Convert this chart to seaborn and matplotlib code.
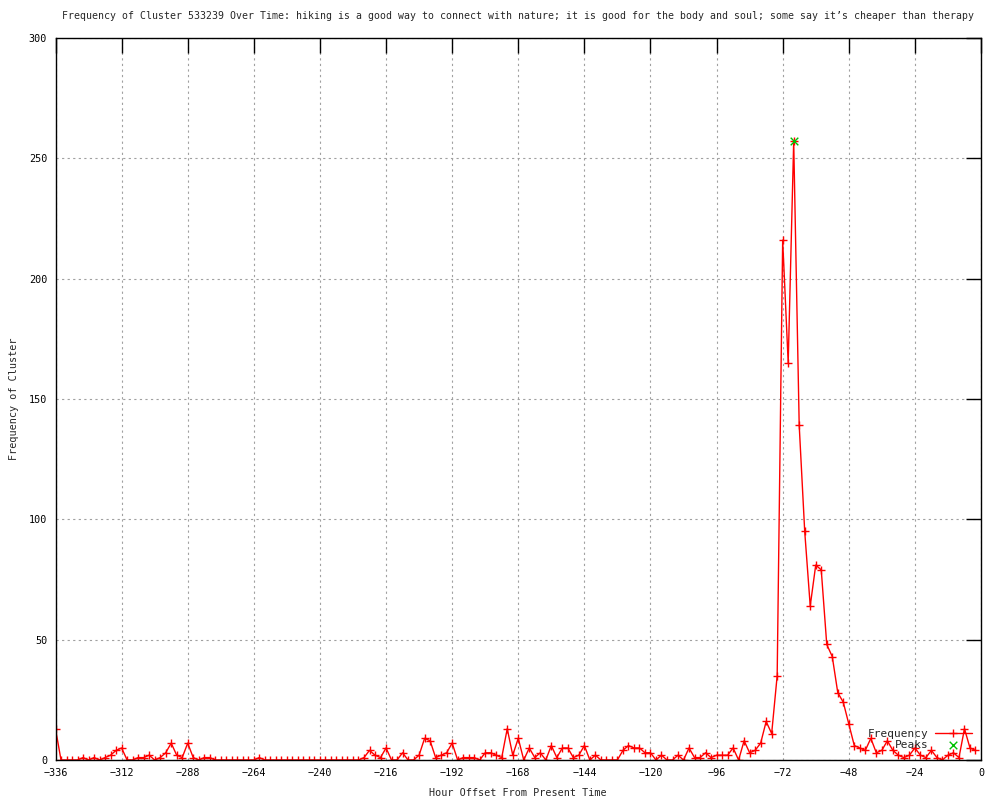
import numpy as np
import pandas as pd
import matplotlib
matplotlib.use("Agg")
import matplotlib.pyplot as plt
import seaborn as sns

# hourly offsets, one reading every 2 hours
hours = list(range(-336, 0, 2))

freq_early = [13, 0, 0, 0, 0, 1, 0, 1, 0, 1,
              2, 4, 5, 0, 0, 1, 1, 2, 0, 1,
              3, 7, 2, 1, 7, 1, 0, 1, 1, 0,
              0, 0, 0, 0, 0, 0, 0, 1]          # -336 .. -262
freq_quiet = [0] * 18                          # -260 .. -226
freq_late = [1, 4, 2, 1, 5, 0, 0, 3, 0, 0,
             2, 9, 8, 1, 2, 3, 7, 0, 1, 1,
             1, 0, 3, 3, 2, 1, 13, 2, 9, 0,
             5, 1, 3, 0, 6, 1, 5, 5, 1, 2,
             6, 0, 2, 0, 0, 0, 0, 4, 6, 5,
             5, 3, 3, 0, 2, 0, 0, 2, 0, 5,
             1, 1, 3, 1, 2, 2, 2, 5, 0, 8,
             3, 4, 7, 16, 11, 35, 216, 165, 257, 139,
             95, 64, 81, 79, 48, 43, 28, 24, 15, 6,
             5, 4, 9, 3, 4, 8, 4, 2, 1, 2,
             5, 2, 1, 4, 1, 0, 2, 3, 1, 13,
             5, 4]                             # -224 .. -2
frequency = freq_early + freq_quiet + freq_late

peak_hours = [-68]
peak_values = [257]

x_ticks = list(range(-336, 1, 24))
y_ticks = list(range(0, 301, 50))

title = ("Frequency of Cluster 533239 Over Time: hiking is a good way to connect with nature; "
         "it is good for the body and soul; some say it\u2019s cheaper than therapy")

df = pd.DataFrame({"hour": hours, "frequency": frequency})
peaks = pd.DataFrame({"hour": peak_hours, "frequency": peak_values})

sns.set_theme(style="white")
plt.rcParams["font.family"] = ["DejaVu Sans Mono", "DejaVu Sans"]
FS = 7.3

fig = plt.figure(figsize=(10, 8), dpi=100)
ax = fig.add_axes([0.0555, 0.05, 0.9255, 0.9025])

sns.lineplot(data=df, x="hour", y="frequency", ax=ax, color="red", linewidth=1,
             marker="+", markersize=6, markeredgewidth=1, markeredgecolor="red",
             label="Frequency")
sns.scatterplot(data=peaks, x="hour", y="frequency", ax=ax, color="#00c000",
                marker="x", s=30, linewidth=1, label="Peaks", zorder=5)

ax.set_xlim(-336, 0)
ax.set_ylim(0, 300)
ax.set_xticks(x_ticks)
ax.set_yticks(y_ticks)
ax.grid(True, color="#a0a0a0", linestyle=(0, (2, 3)), linewidth=0.8)
ax.tick_params(direction="in", length=11, width=1, top=True, right=True,
               labelsize=FS, colors="black", pad=6)
for s in ax.spines.values():
    s.set_color("black")
    s.set_linewidth(1)

ax.set_xlabel("Hour Offset From Present Time", fontsize=FS, labelpad=7)
ax.set_ylabel("Frequency of Cluster", fontsize=FS, labelpad=7)
ax.set_title(title, fontsize=7.1, pad=14)

leg = ax.legend(loc="lower right", bbox_to_anchor=(0.999, 0.003), frameon=False,
                markerfirst=False, fontsize=FS + 0.7, labelspacing=0.1, handlelength=3.4,
                handletextpad=0.5, borderaxespad=0.3)

fig.savefig("out.png", dpi=100)
